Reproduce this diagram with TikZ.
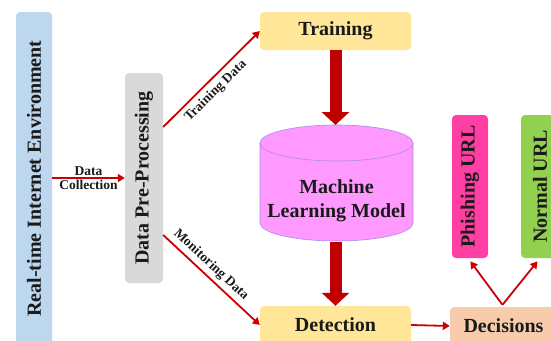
\documentclass[tikz,border=0pt]{standalone}
\usepackage{fontspec}
\setmainfont{Liberation Serif}
\usetikzlibrary{arrows.meta}
\definecolor{blueb}{HTML}{BDD7EE}
\definecolor{grayb}{HTML}{D9D9D9}
\definecolor{yellowb}{HTML}{FFE699}
\definecolor{pinkc}{HTML}{FF99FF}
\definecolor{pinkline}{HTML}{A58CF0}
\definecolor{peach}{HTML}{F8CBAD}
\definecolor{magb}{HTML}{FF3FA4}
\definecolor{greenb}{HTML}{92D050}
\definecolor{arr}{HTML}{CC0000}
\definecolor{thick}{HTML}{C00000}
\definecolor{txt}{HTML}{1A1A1A}
\begin{document}
\begin{tikzpicture}[x=1pt,y=-1pt,
  box/.style={rounded corners=4pt, inner sep=0pt, text=txt,
    font=\fontsize{20}{22}\selectfont\bfseries, align=center},
  thinarrow/.style={draw=arr, line width=1.8pt, -{Triangle[width=8pt,length=7pt]}},
  thickarrow/.style={draw=thick, line width=12pt, -{Triangle[width=27pt,length=13pt]}},
  lbl/.style={font=\fontsize{13.5}{15}\selectfont\bfseries, text=txt, inner sep=1.5pt}]
\clip (0,0) rectangle (551,340);
\fill[white] (0,0) rectangle (551,340);
% boxes
\node[box, fill=blueb, rotate=90, minimum width=333pt, minimum height=36pt] (rt) at (34,178.5) {Real-time Internet Environment};
\node[box, fill=grayb, rotate=90, minimum width=210pt, minimum height=38pt] (dpp) at (144,178) {Data Pre-Processing};
\node[box, fill=yellowb, minimum width=151pt, minimum height=38pt] (tr) at (335.5,31) {Training};
\node[box, fill=yellowb, minimum width=151pt, minimum height=38pt] (det) at (335.5,325) {Detection};
\node[box, fill=peach, minimum width=107pt, minimum height=38pt] (dec) at (503.5,326) {Decisions};
\node[box, fill=magb, rotate=90, minimum width=143pt, minimum height=36pt] (ph) at (470,186.5) {Phishing URL};
\node[box, fill=greenb, rotate=90, minimum width=143pt, minimum height=38pt] (nu) at (540,186.5) {Normal URL};
% cylinder
\draw[fill=pinkc, draw=pinkline, line width=0.6pt]
  (260,143) -- (260,223) arc[start angle=180, end angle=360, x radius=76.5, y radius=-18] -- (413,143)
  arc[start angle=0, end angle=180, x radius=76.5, y radius=-18] -- cycle;
\draw[draw=pinkline, line width=0.6pt] (260,143) arc[start angle=180, end angle=360, x radius=76.5, y radius=-18];
\node[box, font=\fontsize{20}{24}\selectfont\bfseries, text=txt] (ml) at (336.5,201) {Machine\\Learning Model};
\coordinate (cyltop) at (336.5,125);
\coordinate (cylbot) at (335.5,242);
% thick arrows
\draw[thickarrow] (tr.south) -- (tr.south |- cyltop);
\draw[thickarrow] (cylbot) -- (det.north);
% thin arrows
\draw[thinarrow] (rt.south |- 0,178) -- (dpp.north)
  node[lbl, midway, above] {Data}
  node[lbl, midway, below] {Collection};
\draw[thinarrow] ([yshift=51pt]dpp.south) -- (tr.west)
  node[lbl, pos=0.46, sloped, below=3pt] {Training Data};
\draw[thinarrow] ([yshift=-57pt]dpp.south) -- (det.west)
  node[lbl, pos=0.42, sloped, above=2pt] {Monitoring Data};
\draw[thinarrow] (det.east) -- (dec.west);
\draw[thinarrow, shorten >=4pt] ([xshift=-1pt,yshift=2pt]dec.north) -- ([xshift=-2pt]ph.west);
\draw[thinarrow, shorten >=4pt] ([xshift=-1pt,yshift=2pt]dec.north) -- (nu.west);
\end{tikzpicture}
\end{document}
